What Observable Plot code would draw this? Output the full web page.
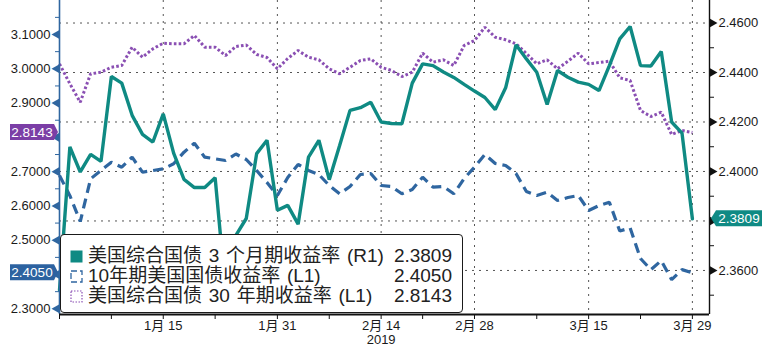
<!DOCTYPE html>
<html>
<head>
<meta charset="utf-8">
<script src="https://cdn.jsdelivr.net/npm/d3@7"></script>
<script src="https://cdn.jsdelivr.net/npm/@observablehq/plot@0.6"></script>
<style>
  html, body { margin: 0; padding: 0; background: #fff; }
  #wrap { position: relative; width: 766px; height: 353px; }
  #legend {
    position: absolute; left: 60px; top: 234px; width: 403px; height: 79px;
    box-sizing: border-box; background: #fff; border: 1.5px solid #1a1a1a; border-radius: 4px;
    padding: 11px 10px 0 9px; font-family: "Liberation Sans", "Noto Sans CJK SC", sans-serif;
    font-size: 19px; word-spacing: 1.5px; color: #222;
  }
  .row { display: flex; align-items: center; height: 20px; line-height: 18px; white-space: nowrap; }
  .row svg { flex: none; margin-right: 5px; }
  .row .name { flex: 1; }
  .row .val { text-align: right; }
</style>
</head>
<body>
<div id="wrap"></div>
<script>
// ---- data (trading days) ----
const dates = ["2018-12-31","2019-01-02","2019-01-03","2019-01-04","2019-01-07","2019-01-08","2019-01-09","2019-01-10","2019-01-11","2019-01-14","2019-01-15","2019-01-16","2019-01-17","2019-01-18","2019-01-22","2019-01-23","2019-01-24","2019-01-25","2019-01-28","2019-01-29","2019-01-30","2019-01-31","2019-02-01","2019-02-04","2019-02-05","2019-02-06","2019-02-07","2019-02-08","2019-02-11","2019-02-12","2019-02-13","2019-02-14","2019-02-15","2019-02-19","2019-02-20","2019-02-21","2019-02-22","2019-02-25","2019-02-26","2019-02-27","2019-02-28","2019-03-01","2019-03-04","2019-03-05","2019-03-06","2019-03-07","2019-03-08","2019-03-11","2019-03-12","2019-03-13","2019-03-14","2019-03-15","2019-03-18","2019-03-19","2019-03-20","2019-03-21","2019-03-22","2019-03-25","2019-03-26","2019-03-27","2019-03-28","2019-03-29"];

// 美国综合国债 3 个月期收益率 (R1)
const bill3m = [2.352,2.4099,2.3998,2.4069,2.4041,2.4384,2.4357,2.4227,2.415,2.4119,2.4233,2.4074,2.3968,2.3935,2.3935,2.3975,2.352,2.3742,2.381,2.4072,2.4126,2.3843,2.3863,2.3787,2.4058,2.4126,2.3967,2.4105,2.4247,2.4258,2.428,2.42,2.4194,2.4193,2.4357,2.4435,2.4428,2.4402,2.438,2.4352,2.4325,2.4299,2.425,2.4338,2.4512,2.4455,2.4401,2.4271,2.4408,2.4381,2.4361,2.4352,2.4327,2.4428,2.4536,2.4586,2.4428,2.4426,2.4485,2.42,2.4155,2.3809];

// 10年期美国国债收益率 (L1)
const note10y = [2.6888,2.63,2.5546,2.679,2.7034,2.7276,2.713,2.7422,2.6984,2.7034,2.7083,2.7229,2.7568,2.783,2.7422,2.7375,2.7325,2.7515,2.7355,2.7034,2.6684,2.6305,2.683,2.7209,2.7034,2.6917,2.6596,2.6354,2.6567,2.6917,2.6946,2.6596,2.6567,2.6354,2.648,2.6838,2.6547,2.6567,2.6354,2.68,2.713,2.75,2.7238,2.718,2.6946,2.6421,2.6305,2.6401,2.6159,2.6246,2.6305,2.5867,2.6013,2.6109,2.5269,2.5357,2.4467,2.4143,2.4405,2.3851,2.4143,2.405];

// 美国综合国债 30 年期收益率 (L1)
const bond30y = [3.0145,2.9562,2.9026,2.9854,2.99,3.0046,3.0096,3.063,3.0338,3.0583,3.0746,3.0729,3.0729,3.0971,3.063,3.063,3.0388,3.065,3.0694,3.0417,3.0329,3.0,3.03,3.0533,3.0338,3.0262,3.0,2.9854,3.0046,3.0242,3.0291,3.0046,2.995,2.9775,2.99,3.0455,3.0192,3.0262,3.0096,3.0679,3.0825,3.1213,3.0921,3.0845,3.0729,3.0446,3.0146,3.0262,3.0,3.022,3.0455,3.0146,3.0183,3.0221,2.9737,2.9659,2.8784,2.8609,2.8734,2.8084,2.82,2.8143];

const seriesNames = ["美国综合国债 3 个月期收益率 (R1)", "10年期美国国债收益率 (L1)", "美国综合国债 30 年期收益率 (L1)"];
const lastValues = ["2.3809", "2.4050", "2.8143"];

const majorTickDates = ["2019-01-15","2019-01-31","2019-02-14","2019-02-28","2019-03-15","2019-03-29"];
const majorTickLabels = ["1月 15","1月 31","2月 14","2月 28","3月 15","3月 29"];
const minorTickDates = ["2018-12-31","2019-01-08","2019-01-23","2019-02-07","2019-02-21","2019-03-08","2019-03-22"];
const yearLabel = "2019";
const yearLabelDate = "2019-02-14";

const leftMajor = [2.3, 2.4, 2.5, 2.6, 2.7, 2.8, 2.9, 3.0, 3.1];
const leftMinor = [2.35, 2.45, 2.55, 2.65, 2.75, 2.85, 2.95, 3.05, 3.15];
const rightMajor = [2.36, 2.38, 2.40, 2.42, 2.44, 2.46];
const rightMinor = [2.35, 2.37, 2.39, 2.41, 2.43, 2.45, 2.47];
// tick labels that sit under a value tag in the reference
const leftHidden = [2.4, 2.8];
const rightHidden = [2.38];

// ---- styling ----
const TEAL = "#0f8a83", BLUE = "#2f66a0", PURPLE = "#8a4fb3";
const TEAL_TAG = "#0f8a84", BLUE_TAG = "#2c62a0", PURPLE_TAG = "#7b3ea6";
const AXIS_FONT = "'Liberation Sans', 'Noto Sans CJK SC', sans-serif";

const leftDomain = [2.2834, 3.1992];
const rightDomain = [2.3422, 2.4691];
const toLeft = d3.scaleLinear().domain(rightDomain).range(leftDomain);

const rows = dates.map((d, i) => ({ i, b3: toLeft(bill3m[i]), n10: note10y[i], b30: bond30y[i] }));
const ix = (d) => dates.indexOf(d);
const majorIdx = majorTickDates.map(ix);
const minorIdx = minorTickDates.map(ix);
const xDomain = [0, 62.65];

const grid = { stroke: "#555", strokeOpacity: 1, strokeWidth: 1, strokeDasharray: "2,5" };
const isHidden = (list, v) => list.some((h) => Math.abs(h - v) < 1e-6);

const plot = Plot.plot({
  width: 766, height: 353,
  marginTop: 0, marginBottom: 39, marginLeft: 59, marginRight: 57,
  x: { type: "linear", domain: xDomain, axis: null },
  y: { domain: leftDomain, axis: null },
  style: { fontFamily: AXIS_FONT, fontSize: "13px", color: "#1a1a1a", background: "#fff", overflow: "visible" },
  marks: [
    Plot.ruleY(rightMajor, { y: (d) => toLeft(d), ...grid }),
    Plot.ruleX(majorIdx, { x: (d) => d, ...grid }),
    Plot.line(rows, { x: "i", y: "n10", stroke: BLUE, strokeWidth: 3.2, strokeDasharray: "10,6", strokeLinecap: "butt", strokeLinejoin: "miter" }),
    Plot.line(rows, { x: "i", y: "b30", stroke: PURPLE, strokeWidth: 3, strokeDasharray: "2.6,2.2", strokeLinecap: "butt", strokeLinejoin: "miter" }),
    Plot.line(rows, { x: "i", y: "b3", stroke: TEAL, strokeWidth: 3.4, strokeLinejoin: "miter" }),
    // axis lines
    Plot.ruleX([xDomain[0]], { stroke: BLUE, strokeWidth: 1.6 }),
    Plot.ruleX([xDomain[1]], { stroke: "#111", strokeWidth: 1.4 }),
    Plot.ruleY([leftDomain[0]], { stroke: "#111", strokeWidth: 2 }),
    // left axis
    Plot.axisY({ anchor: "left", label: null, ticks: leftMajor.filter((v) => !isHidden(leftHidden, v)), tickSize: 0, tickPadding: 9, tickFormat: (d) => d.toFixed(4), fill: "#1a1a1a" }),
    Plot.axisY({ anchor: "left", label: null, ticks: leftMinor, tickSize: 4, tickFormat: () => "", stroke: BLUE }),
    Plot.dot(leftMajor, { x: () => xDomain[0], y: (d) => d, symbol: "triangle", rotate: -90, r: 3.2, fill: BLUE, stroke: null, dx: -3 }),
    // right axis
    Plot.axisY({ anchor: "right", label: null, ticks: rightMajor.filter((v) => !isHidden(rightHidden, v)).map(toLeft), tickSize: 0, tickPadding: 9, tickFormat: (d) => toLeft.invert(d).toFixed(4), fill: "#1a1a1a" }),
    Plot.axisY({ anchor: "right", label: null, ticks: rightMinor.map(toLeft), tickSize: 4, tickFormat: () => "", stroke: "#111" }),
    Plot.dot(rightMajor, { x: () => xDomain[1], y: (d) => toLeft(d), symbol: "triangle", rotate: 90, r: 3.2, fill: "#111", stroke: null, dx: 3 }),
    // x axis
    Plot.axisX({ anchor: "bottom", label: null, ticks: majorIdx, tickSize: 5, tickPadding: 1, tickFormat: (i) => majorTickLabels[majorIdx.indexOf(i)], stroke: "#111", fill: "#1a1a1a" }),
    Plot.axisX({ anchor: "bottom", label: null, ticks: minorIdx, tickSize: 5, tickFormat: () => "", stroke: "#111" }),
    Plot.text([yearLabel], { x: () => ix(yearLabelDate), frameAnchor: "bottom", dy: 29.5, text: (d) => d, fill: "#1a1a1a", fontSize: 13 })
  ]
});

const wrap = document.getElementById("wrap");
wrap.appendChild(plot);

// value tags drawn through the plot's scales
const xs = plot.scale("x"), ys = plot.scale("y");
const svg = d3.select(plot);
function tag(value, yVal, color, side) {
  const y = ys.apply(yVal);
  const h = 16;
  const g = svg.append("g");
  if (side === "left") {
    const tip = xs.apply(xDomain[0]) - 1, x1 = tip - 4, x0 = 10;
    g.append("path").attr("d", `M${x0},${y - h / 2}H${x1}L${tip},${y}L${x1},${y + h / 2}H${x0}Z`).attr("fill", color);
    g.append("text").attr("x", (x0 + x1) / 2).attr("y", y).attr("dy", "0.35em").attr("text-anchor", "middle")
      .attr("fill", "#fff").attr("font-size", 13.5).attr("font-family", AXIS_FONT).text(value);
  } else {
    const tip = xs.apply(xDomain[1]) + 2, x1 = tip + 5, x2 = 762;
    g.append("path").attr("d", `M${tip},${y}L${x1},${y - h / 2}H${x2}V${y + h / 2}H${x1}Z`).attr("fill", color);
    g.append("text").attr("x", (x1 + x2) / 2).attr("y", y).attr("dy", "0.35em").attr("text-anchor", "middle")
      .attr("fill", "#fff").attr("font-size", 13.5).attr("font-family", AXIS_FONT).text(value);
  }
}
tag(lastValues[2], bond30y[bond30y.length - 1], PURPLE_TAG, "left");
tag(lastValues[1], note10y[note10y.length - 1], BLUE_TAG, "left");
tag(lastValues[0], toLeft(bill3m[bill3m.length - 1]), TEAL_TAG, "right");

// legend
const legend = document.createElement("div");
legend.id = "legend";
const swatches = [
  `<svg width="13" height="13"><rect x="0.5" y="0.5" width="12" height="12" fill="${TEAL}"/></svg>`,
  `<svg width="13" height="13"><rect x="1" y="1" width="11" height="11" fill="none" stroke="${BLUE}" stroke-width="1.3" stroke-dasharray="6,3"/></svg>`,
  `<svg width="13" height="13"><rect x="1" y="1" width="11" height="11" fill="none" stroke="${PURPLE}" stroke-width="1.2" stroke-dasharray="1.5,1.5"/></svg>`
];
legend.innerHTML = seriesNames.map((n, k) =>
  `<div class="row">${swatches[k]}<span class="name">${n}</span><span class="val">${lastValues[k]}</span></div>`).join("");
wrap.appendChild(legend);
</script>
</body>
</html>
